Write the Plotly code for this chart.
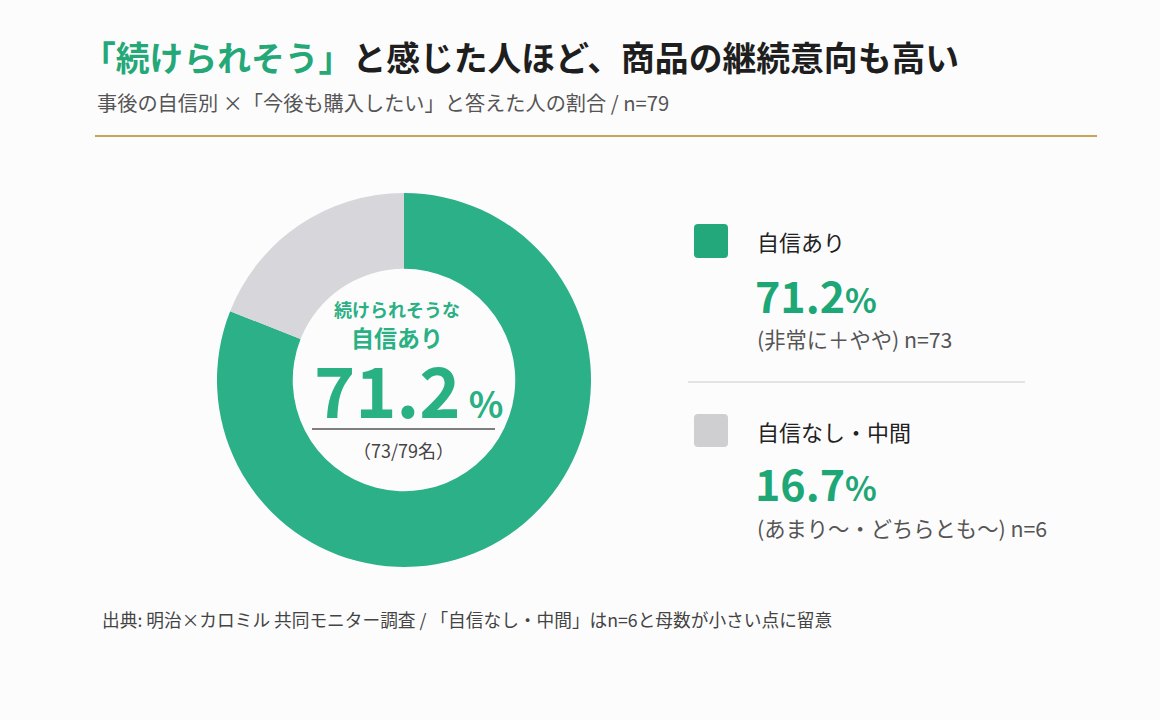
import plotly.graph_objects as go

W, H = 1160, 720

categories = ["自信あり", "自信なし・中間"]
shares = [71.2, 16.7]
counts = [73, 6]
total_n = 79
notes = ["(非常に＋やや) n=73", "(あまり〜・どちらとも〜) n=6"]

GREEN = "#2bb087"
GREEN_CENTER = "#29b083"
GREEN_TXT = "#1ea776"
GREY = "#d6d6db"
FONT = "Noto Sans CJK JP"


def px(x):
    return x / W


def py(y):
    return 1 - y / H


fig = go.Figure()
fig.add_trace(go.Pie(
    labels=categories,
    values=shares,
    hole=0.595,
    sort=False,
    direction="clockwise",
    rotation=0,
    marker=dict(colors=[GREEN, GREY], line=dict(width=0)),
    textinfo="none",
    hoverinfo="skip",
    showlegend=False,
    domain=dict(x=[px(217), px(591)], y=[py(567), py(193)]),
))

ann = []


def text(x, y, t, size, color, xanchor="left", bold=False):
    if bold:
        t = "<b>" + t + "</b>"
    ann.append(dict(x=px(x), y=py(y), xref="paper", yref="paper", text=t,
                    showarrow=False, xanchor=xanchor, yanchor="middle",
                    font=dict(family=FONT, size=size, color=color)))


# title / subtitle
text(80, 57, f'<span style="color:#25a878">「続けられそう」</span>と感じた人ほど、商品の継続意向も高い',
     33.8, "#1e1e1e", bold=True)
text(95, 103, f"事後の自信別 ×「今後も購入したい」と答えた人の割合 / n={total_n}", 20.2, "#555555")

# center labels
text(397, 309, "続けられそうな", 18, GREEN_CENTER, xanchor="center", bold=True)
text(397, 337, categories[0], 23, GREEN_CENTER, xanchor="center", bold=True)
text(409, 387, f'{shares[0]}<span style="font-size:36px"> %</span>', 70, GREEN_CENTER,
     xanchor="center", bold=True)
text(404, 450, f"（{counts[0]}/{total_n}名）", 18, "#444444", xanchor="center")

# right legend
ys = [(241, 294, 338), (431, 482, 527)]
for i, (yl, yv, yn) in enumerate(ys):
    text(755, yl, categories[i], 22, "#222222")
    text(753, yv, f'{shares[i]}<span style="font-size:33px">%</span>', 43, GREEN_TXT, bold=True)
    text(755, yn, notes[i], 21.3, "#555555")

# footer
text(100, 619, "出典: 明治×カロミル 共同モニター調査 / 「自信なし・中間」はn=6と母数が小さい点に留意",
     17.7, "#444444")

shapes = [
    dict(type="line", xref="paper", yref="paper", x0=px(95), x1=px(1097), y0=py(136), y1=py(136),
         line=dict(color="#c9a35a", width=2)),
    dict(type="line", xref="paper", yref="paper", x0=px(312), x1=px(495), y0=py(429), y1=py(429),
         line=dict(color="#555555", width=1.5)),
    dict(type="line", xref="paper", yref="paper", x0=px(688), x1=px(1025), y0=py(382), y1=py(382),
         line=dict(color="#dddddd", width=1.5)),
]


def rrect(x0, y0, x1, y1, r, color):
    X0, X1 = px(x0), px(x1)
    Y0, Y1 = py(y1), py(y0)
    rx, ry = r / W, r / H
    path = (f"M{X0+rx},{Y0} L{X1-rx},{Y0} Q{X1},{Y0} {X1},{Y0+ry} L{X1},{Y1-ry} "
            f"Q{X1},{Y1} {X1-rx},{Y1} L{X0+rx},{Y1} Q{X0},{Y1} {X0},{Y1-ry} "
            f"L{X0},{Y0+ry} Q{X0},{Y0} {X0+rx},{Y0} Z")
    return dict(type="path", xref="paper", yref="paper", path=path,
                fillcolor=color, line=dict(width=0))


shapes.append(rrect(694, 224, 728, 258, 4, "#22a87b"))
shapes.append(rrect(694, 414, 728, 447, 4, "#cfcfd1"))

fig.update_layout(
    width=W, height=H,
    margin=dict(l=0, r=0, t=0, b=0),
    paper_bgcolor="#fdfcfd",
    plot_bgcolor="#fdfcfd",
    annotations=ann,
    shapes=shapes,
    showlegend=False,
)

fig.write_html("out.html", config={"displayModeBar": False})
